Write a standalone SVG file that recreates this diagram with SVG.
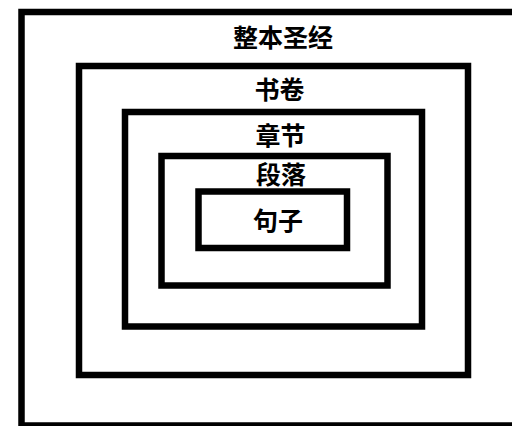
<svg xmlns="http://www.w3.org/2000/svg" width="512" height="426" viewBox="0 0 512 426">
<style>
.box{fill:none;stroke:#000;stroke-width:6.5}
.lbl{font-family:"Noto Sans CJK SC","Noto Sans",sans-serif;font-weight:bold;font-size:25px;fill:#000;text-anchor:middle}
</style>
<rect width="512" height="426" fill="#fff"/>
<g id="bible"><rect class="box" x="21.5" y="12" width="520" height="413.5"/><text class="lbl" x="283" y="47">整本圣经</text></g>
<g id="book"><rect class="box" x="79" y="66" width="389" height="309"/><text class="lbl" x="279.5" y="99">书卷</text></g>
<g id="chapter"><rect class="box" x="125" y="112" width="297" height="214.5"/><text class="lbl" x="280.5" y="145">章节</text></g>
<g id="paragraph"><rect class="box" x="161.5" y="156" width="226" height="129.5"/><text class="lbl" x="281" y="184">段落</text></g>
<g id="sentence"><rect class="box" x="198.5" y="191.5" width="148.5" height="56.5"/><text class="lbl" x="278" y="230">句子</text></g>
<g id="connectors"/>
</svg>
